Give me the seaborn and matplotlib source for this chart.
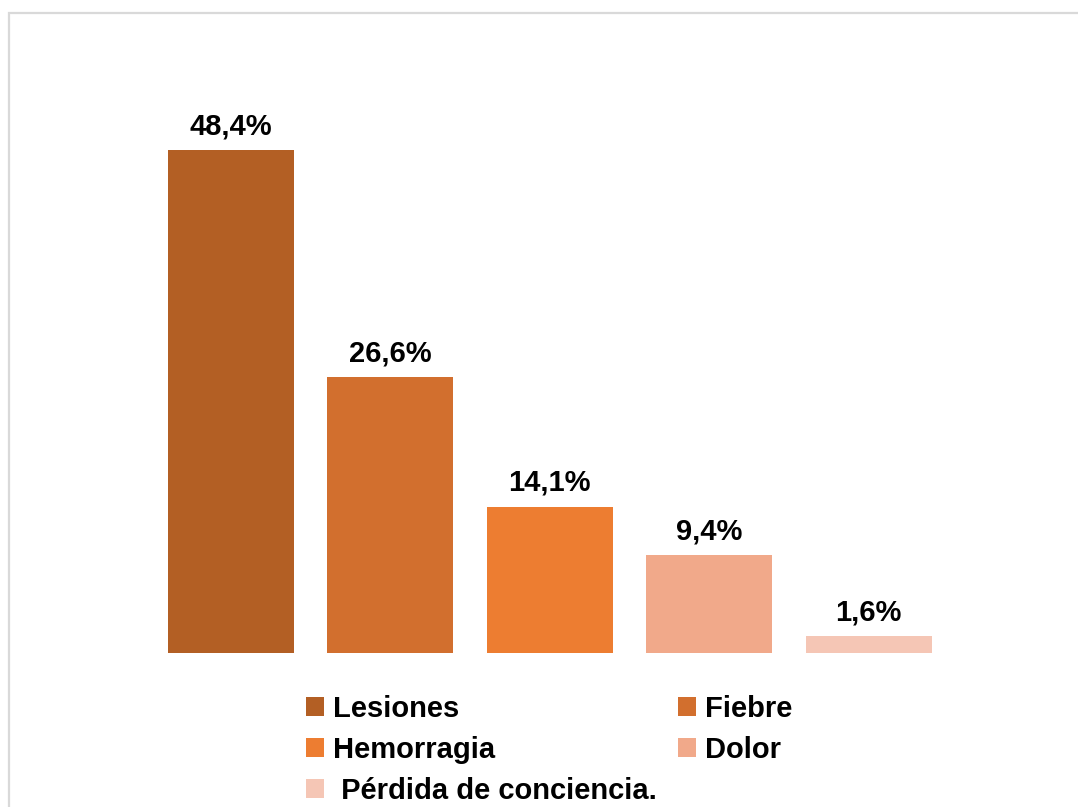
import matplotlib
matplotlib.use("Agg")
import matplotlib.pyplot as plt
from matplotlib.patches import Patch, Rectangle
import seaborn as sns
import pandas as pd

categories = ["Lesiones", "Fiebre", "Hemorragia", "Dolor", "Pérdida de conciencia."]
values = [48.4, 26.6, 14.1, 9.4, 1.6]
value_labels = ["48,4%", "26,6%", "14,1%", "9,4%", "1,6%"]
colors = ["#B35F24", "#D26F2E", "#ED7D31", "#F1A98A", "#F5C6B5"]

sns.set_theme(style="white")
plt.rcParams["font.family"] = ["Liberation Sans", "DejaVu Sans"]

df = pd.DataFrame({"cat": categories, "val": values})

fig = plt.figure(figsize=(10.78, 8.07), dpi=100)
ax = fig.add_axes([151 / 1078, 1 - 653 / 807, (948.5 - 151) / 1078, 623 / 807])

sns.barplot(data=df, x="cat", y="val", hue="cat", palette=colors, dodge=False,
            width=0.79, legend=False, ax=ax, saturation=1, linewidth=0)

for cont, lab in zip(ax.containers, value_labels):
    ax.bar_label(cont, labels=[lab], padding=7, fontsize=21, fontweight="bold", color="black")

ax.set_xlim(-0.5, len(categories) - 0.5)
ax.set_ylim(0, 60)
ax.set_xlabel("")
ax.set_ylabel("")
ax.set_xticks([])
ax.set_yticks([])
for s in ax.spines.values():
    s.set_visible(False)

# legend ordered column-wise so rows read: Lesiones|Fiebre, Hemorragia|Dolor, Pérdida
order = [0, 2, 4, 1, 3]
handles = []
for i in order:
    lab = categories[i]
    if i == 4:
        lab = " " + lab
    handles.append(Patch(facecolor=colors[i], edgecolor="none", label=lab))
fig.legend(handles=handles, loc="upper center", bbox_to_anchor=(549 / 1078, 1 - 695 / 807),
           ncol=2, frameon=False, borderpad=0, borderaxespad=0,
           handlelength=0.62, handleheight=0.62, handletextpad=0.3,
           columnspacing=0.72, labelspacing=0.44, labelcolor="black",
           prop={"size": 21, "weight": "bold"})

fig.patches.append(Rectangle((9 / 1078, -0.1), 1.2, 1 - 13 / 807 + 0.1,
                             transform=fig.transFigure, fill=False,
                             edgecolor="#D9D9D9", linewidth=1.6, zorder=0))

fig.savefig("out.png", dpi=100)
